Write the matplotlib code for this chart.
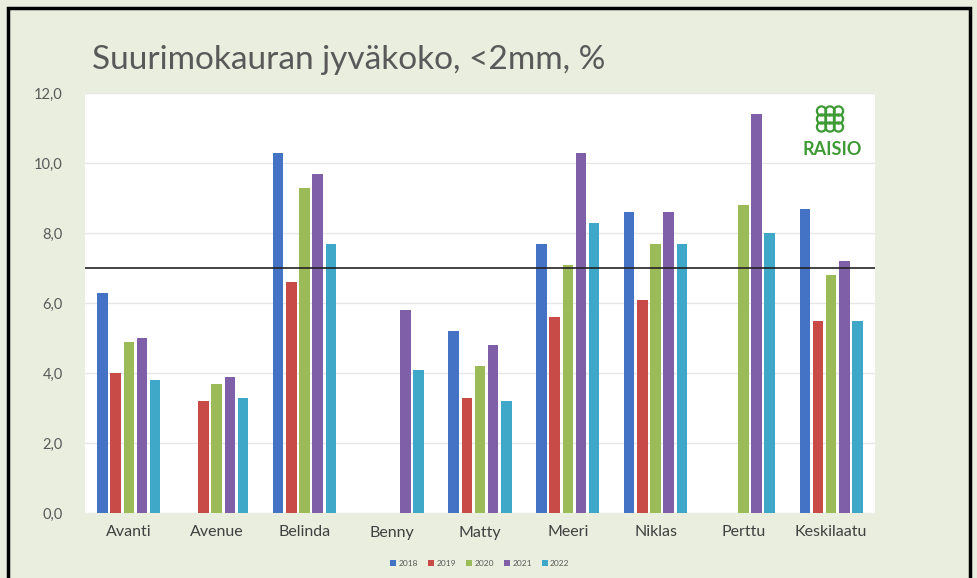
import matplotlib
matplotlib.use("Agg")
import matplotlib.pyplot as plt
import numpy as np
from matplotlib.patches import Rectangle, Ellipse

plt.rcParams['font.family'] = ['Lato', 'DejaVu Sans']

categories = ["Avanti", "Avenue", "Belinda", "Benny", "Matty", "Meeri", "Niklas", "Perttu", "Keskilaatu"]
years = ["2018", "2019", "2020", "2021", "2022"]
v2018 = [6.3, np.nan, 10.3, np.nan, 5.2, 7.7, 8.6, np.nan, 8.7]
v2019 = [4.0, 3.2, 6.6, np.nan, 3.3, 5.6, 6.1, np.nan, 5.5]
v2020 = [4.9, 3.7, 9.3, np.nan, 4.2, 7.1, 7.7, 8.8, 6.8]
v2021 = [5.0, 3.9, 9.7, 5.8, 4.8, 10.3, 8.6, 11.4, 7.2]
v2022 = [3.8, 3.3, 7.7, 4.1, 3.2, 8.3, 7.7, 8.0, 5.5]
series = [v2018, v2019, v2020, v2021, v2022]
colors = ["#4472C4", "#C94B48", "#9BBB59", "#7F5FA8", "#3FA8C8"]
ref_line = 7.0
yticks = [0, 2, 4, 6, 8, 10, 12]

bg = "#EAEEDF"
fig = plt.figure(figsize=(9.77, 5.78), dpi=100, facecolor=bg)
ax = fig.add_axes([85/977, 1-513/578, 790/977, 420/578])
ax.set_facecolor("white")

x = np.arange(len(categories))
step = 0.15
width = 0.12
for i, (vals, c, yr) in enumerate(zip(series, colors, years)):
    ax.bar(x + (i - 2) * step, vals, width=width, color=c, label=yr, zorder=3)

ax.axhline(ref_line, color="#222222", linewidth=1.2, zorder=4)

ax.set_xlim(-0.5, len(categories) - 0.5)
ax.set_ylim(0, 12)
ax.set_yticks(yticks)
ax.set_yticklabels([f"{t:.1f}".replace(".", ",") for t in yticks], fontsize=10.5, color="#595959")
ax.set_xticks(x)
ax.set_xticklabels(categories, fontsize=11.5, color="#404040")
ax.tick_params(axis="both", length=0)
ax.tick_params(axis="y", pad=16)
ax.tick_params(axis="x", pad=9)
ax.grid(axis="y", color="#E6E6E6", linewidth=1, zorder=0)
for s in ax.spines.values():
    s.set_visible(False)

fig.text(92/977, 1-60/578, "Suurimokauran jyväkoko, <2mm, %", fontsize=24, color="#595959",
         va="center", ha="left")

leg = fig.legend(loc="center", bbox_to_anchor=(480/977, 1-563/578), ncol=5, frameon=False,
                 fontsize=6, handlelength=0.7, handleheight=0.7, columnspacing=1.2,
                 handletextpad=0.3, labelcolor="#595959")

# RAISIO logo
green = "#3E9A35"
fig.text(832/977, 1-149/578, "RAISIO", fontsize=13, fontweight="bold", color=green,
         ha="center", va="center")
cx, cy = 830, 119
r = 4.6
for dx in (-8.5, 0, 8.5):
    for dy in (-8, 0, 8):
        fig.patches.append(Ellipse(((cx + dx)/977, 1-(cy + dy)/578), 2*r/977, 2*r/578,
                                   transform=fig.transFigure, fill=False,
                                   edgecolor=green, linewidth=1.6))

# outer frame
fig.patches.append(Rectangle((8/977, -0.05), (970-8)/977, 1.05 - 8/578, transform=fig.transFigure,
                             fill=False, edgecolor="black", linewidth=2.5))

fig.savefig("out.png", dpi=100, facecolor=bg)
